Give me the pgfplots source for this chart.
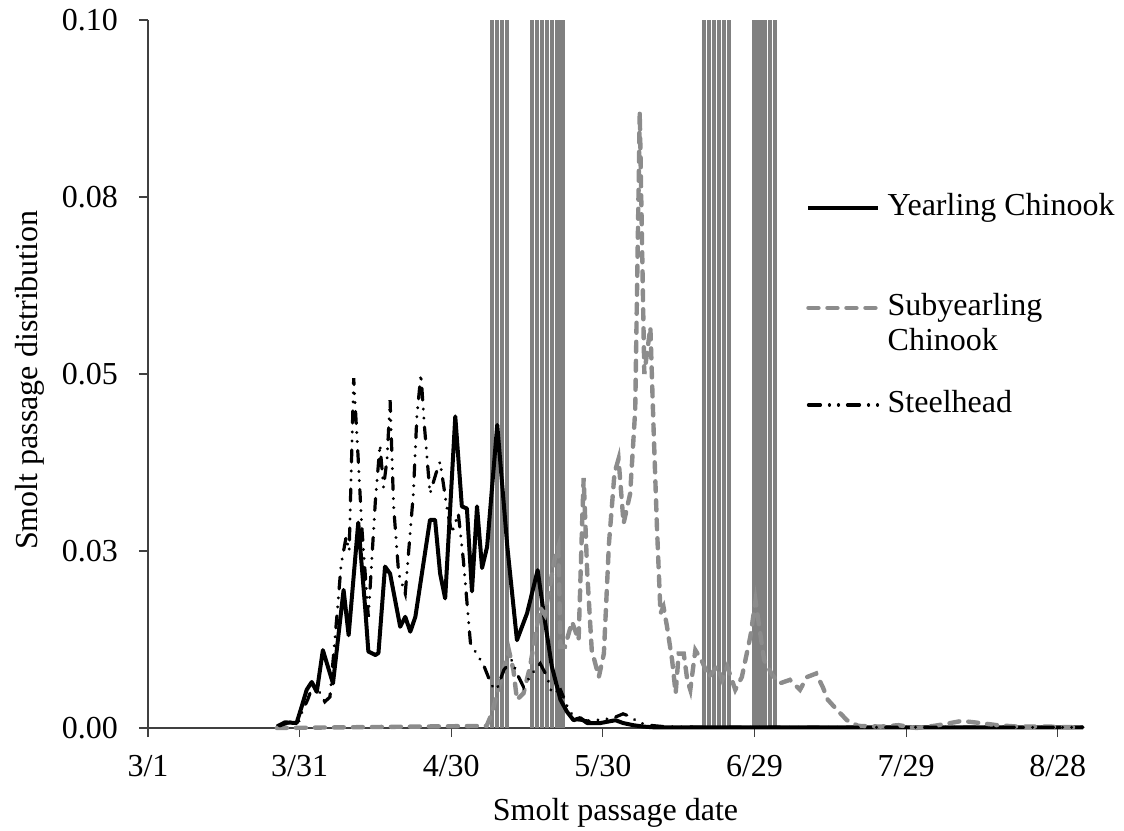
\documentclass[border=0pt]{standalone}
\usepackage{fontspec}
\setmainfont{Liberation Serif}
\usepackage{pgfplots}
\pgfplotsset{compat=1.18}
\newcommand\chartfont{\fontsize{16}{17.5}\selectfont}
\definecolor{bargray}{HTML}{808080}
\definecolor{linegray}{HTML}{8C8C8C}
\begin{document}
\begin{tikzpicture}
\begin{axis}[
  at={(0,0)}, anchor=south west,
  scale only axis, width=467.5pt, height=354pt,
  xmin=0, xmax=185, ymin=0, ymax=0.1,
  axis lines*=left, axis line style={-, line width=0.6pt, black!75},
  tick align=outside, major tick length=4.5pt,
  tick style={line width=0.6pt, black!75},
  xtick={0,30,60,90,120,150,180},
  xticklabels={3/1,3/31,4/30,5/30,6/29,7/29,8/28},
  ytick={0,0.025,0.05,0.075,0.1},
  yticklabels={0.00,0.03,0.05,0.08,0.10},
  tick label style={font=\chartfont},
  xticklabel style={yshift=-5.5pt},
  yticklabel style={xshift=-7pt},
  label style={font=\chartfont},
  xlabel={Smolt passage date},
  ylabel={Smolt passage distribution},
  xlabel style={at={(axis description cs:0.5,-0.130)}, anchor=base},
  ylabel style={at={(axis description cs:-0.1263,0.4915)}, anchor=center, rotate=0},
  legend style={at={(axis description cs:0.7036,0.7556)}, anchor=north west,
    draw=none, fill=none, inner sep=0pt, row sep=0pt, column sep=3.5pt,
    font=\chartfont, cells={anchor=base west},
    nodes={inner sep=0pt, text height=11pt, text depth=3.5pt}},
  legend image code/.code={\draw[#1] (0pt,3.75pt) -- (35pt,3.75pt);},
  clip=false,
]
% gray vertical bars
\addplot[ycomb, draw=bargray, line width=2.15pt, forget plot] coordinates {
(68,0.1)(69,0.1)(70,0.1)(71,0.1)
(76,0.1)(77,0.1)(78,0.1)(79,0.1)(80,0.1)(81,0.1)(82,0.1)
(110,0.1)(111,0.1)(112,0.1)(113,0.1)(114,0.1)(115,0.1)
(120,0.1)(121,0.1)(122,0.1)(123,0.1)(124,0.1)
};
% Yearling Chinook
\addplot[black, line width=2pt, line join=round] coordinates {
(25.5,0.0002)(27.1,0.0008)(29.4,0.0007)(30.4,0.0030)(31.4,0.0054)(32.4,0.0065)(33.4,0.0051)
(34.6,0.0110)(36.6,0.0063)(38.7,0.0195)(39.7,0.0131)(41.6,0.0290)(43.0,0.0167)
(43.6,0.0108)(45.0,0.0103)(45.6,0.0106)(46.9,0.0228)(47.9,0.0218)(49.9,0.0143)
(50.9,0.0157)(51.9,0.0136)(52.9,0.0157)(55.8,0.0294)(56.8,0.0294)(57.8,0.0218)
(58.8,0.0183)(60.8,0.0440)(62.1,0.0313)(63.1,0.0310)(64.1,0.0193)(65.1,0.0313)
(66.1,0.0226)(67.1,0.0256)(69.1,0.0428)(71.1,0.0256)(73.0,0.0124)(75.0,0.0162)
(77.1,0.0223)(78.3,0.0162)(79.9,0.0087)(81.6,0.0040)(82.9,0.0023)(84.2,0.0011)
(85.5,0.0014)(86.9,0.0007)(89.5,0.0007)(91.0,0.0009)(92.5,0.0011)(94.0,0.0007)
(96.0,0.0004)(98.0,0.0002)(100,0.0001)(120,0.0001)(140,0.0001)(160,0.0001)(185,0.0001)
};
\addlegendentry[text depth=39pt]{Yearling Chinook}
% Subyearling Chinook
\addplot[linegray, line width=2.2pt, line cap=round, dash pattern=on 5pt off 4.5pt] coordinates {
(25.5,0)(67,0.0003)(68,0.0020)(69.5,0.0060)(71.4,0.0110)(72.3,0.0082)(73,0.0040)
(74.3,0.0049)(75.6,0.0087)(76.6,0.0129)(77.6,0.0170)(78.5,0.0160)(79.5,0.0200)
(80.5,0.0240)(81.2,0.0256)(81.6,0.0115)(82.5,0.0115)(83.9,0.0150)(85.2,0.0124)
(85.9,0.0290)(86.2,0.0353)(86.9,0.0220)(87.8,0.0110)(89.2,0.0072)(90.2,0.0105)
(91.2,0.0260)(92.3,0.0360)(93.1,0.0380)(94.1,0.0289)(95.4,0.0331)(96.4,0.0449)
(97.3,0.0870)(98.2,0.0500)(99.4,0.0566)(100.0,0.0430)(100.7,0.0284)(101.4,0.0162)
(102.0,0.0171)(102.7,0.0143)(103.7,0.0096)(104.4,0.0049)(105.0,0.0105)(106.0,0.0105)
(106.7,0.0068)(107.3,0.0054)(108.3,0.0110)(109.5,0.0096)(111.0,0.0072)(112.6,0.0087)
(113.6,0.0068)(114.6,0.0087)(116.2,0.0054)(117.5,0.0072)(119.2,0.0130)(120.2,0.0180)
(121.9,0.0096)(123.5,0.0075)(125.0,0.0063)(127.0,0.0068)(129.0,0.0054)(130.4,0.0072)
(132.2,0.0077)(133.5,0.0058)(134.5,0.0040)(136.4,0.0025)(138.3,0.0011)(140.5,0.0003)
(145,0.0002)(148.5,0.0004)(152,0.0000)(155.5,0.0003)(158,0.0006)(161,0.0010)
(164.7,0.0007)(168,0.0004)(172,0.0002)(178,0.0002)(183.5,0.0001)
};
\addlegendentry[text depth=6.5pt]{Subyearling}
\addlegendimage{empty legend}
\addlegendentry[text depth=20pt]{Chinook}
% Steelhead
\addplot[black, line width=1.6pt, line cap=round,
  dash pattern=on 6pt off 4.5pt on 0.01pt off 4.5pt on 0.01pt off 4.5pt] coordinates {
(26.0,0.0003)(28.0,0.0008)(29.8,0.0008)(30.6,0.0025)(31.6,0.0040)(32.6,0.0060)
(34.0,0.0050)(35.0,0.0037)(36.0,0.0044)(37.4,0.0160)(38.2,0.0230)(39.2,0.0270)
(39.8,0.0250)(40.7,0.0494)(41.6,0.0379)(42.3,0.0284)(43.6,0.0157)(45.0,0.0322)
(45.9,0.0400)(46.6,0.0340)(47.3,0.0380)(47.9,0.0463)(48.6,0.0313)(49.6,0.0218)
(50.9,0.0190)(52.5,0.0331)(53.2,0.0440)(54.0,0.0500)(54.7,0.0426)(55.8,0.0331)
(57.0,0.0360)(57.8,0.0376)(59.1,0.0313)(60.1,0.0275)(61.4,0.0303)(62.4,0.0237)
(63.8,0.0120)(65.0,0.0105)(66.4,0.0089)(68.0,0.0060)(69.0,0.0054)(70.4,0.0082)
(72.0,0.0096)(73.0,0.0077)(74.3,0.0058)(76.0,0.0077)(77.6,0.0091)(79.0,0.0072)
(79.9,0.0049)(81.6,0.0054)(83.0,0.0030)(84.5,0.0012)(87.0,0.0010)(90.0,0.0012)
(92.0,0.0014)(94.0,0.0020)(95.5,0.0016)(97.0,0.0008)(99.0,0.0004)(102,0.0002)
(110,0.0001)(140,0.0001)(185,0.0001)
};
\addlegendentry[text depth=3.5pt]{Steelhead}
\end{axis}
\pgfresetboundingbox
\path (-74pt,-51pt) rectangle (488pt,364pt);
\end{tikzpicture}
\end{document}
